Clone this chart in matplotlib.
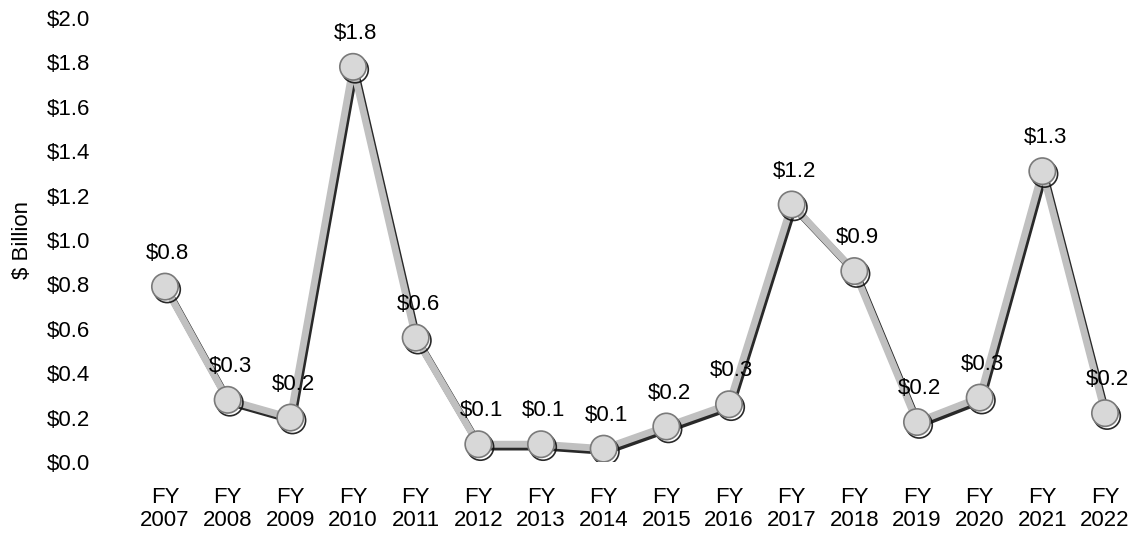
import numpy as np
import matplotlib.pyplot as plt
import matplotlib.patheffects as pe

plt.rcParams['font.family'] = ['Liberation Sans', 'DejaVu Sans']

years = ['FY\n2007', 'FY\n2008', 'FY\n2009', 'FY\n2010', 'FY\n2011', 'FY\n2012',
         'FY\n2013', 'FY\n2014', 'FY\n2015', 'FY\n2016', 'FY\n2017', 'FY\n2018',
         'FY\n2019', 'FY\n2020', 'FY\n2021', 'FY\n2022']
amounts = [0.79, 0.28, 0.20, 1.78, 0.56, 0.08, 0.08, 0.06, 0.16, 0.26,
           1.16, 0.86, 0.18, 0.29, 1.31, 0.22]
yticks = [0.0, 0.2, 0.4, 0.6, 0.8, 1.0, 1.2, 1.4, 1.6, 1.8, 2.0]

fig = plt.figure(figsize=(11.34, 5.36), dpi=100)
ax = fig.add_axes([100 / 1134, 74 / 536, 1025 / 1134, 444 / 536])

x = np.arange(len(amounts))
ax.plot(x, amounts, color='#c0c0c0', lw=5, marker='o', ms=19,
        mfc='#d8d8d8', mec='#7a7a7a', mew=1.2, zorder=3,
        path_effects=[pe.SimpleLineShadow(offset=(1.5, -2), shadow_color='#111111', alpha=0.9),
                      pe.Normal()])

for xi, v in zip(x, amounts):
    ax.annotate('$%.1f' % v, (xi, v), xytext=(2, 24), textcoords='offset points',
                ha='center', va='center', fontsize=16, zorder=4)

ax.set_xlim(-65 / 62.67, 15 + 20 / 62.67)
ax.set_ylim(0, 2.0)
ax.set_xticks(x)
ax.set_xticklabels(years, fontsize=16, linespacing=1.1)
ax.set_yticks(yticks)
ax.set_yticklabels(['$%.1f' % t for t in yticks], fontsize=16)
ax.tick_params(axis='both', length=0)
ax.tick_params(axis='x', pad=18)
ax.tick_params(axis='y', pad=7)
ax.set_ylabel('$ Billion', fontsize=16, labelpad=10)
for s in ax.spines.values():
    s.set_visible(False)

fig.savefig('out.png', dpi=100)
